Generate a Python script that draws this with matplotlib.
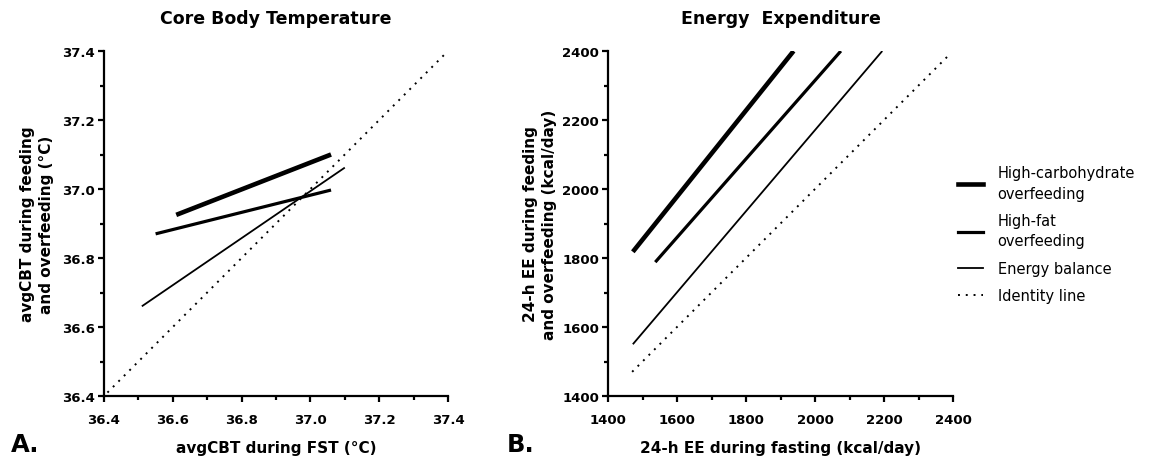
import matplotlib
matplotlib.use("Agg")
import matplotlib.pyplot as plt
from matplotlib.ticker import MultipleLocator
from matplotlib.lines import Line2D

plt.rcParams['font.family'] = ['DejaVu Sans']

# Panel A: core body temperature (x: FST, y: feeding/overfeeding)
cbt_hc_x = [36.61, 37.06]
cbt_hc_y = [36.925, 37.10]
cbt_hf_x = [36.55, 37.06]
cbt_hf_y = [36.87, 36.997]
cbt_eb_x = [36.51, 37.10]
cbt_eb_y = [36.66, 37.062]
cbt_id = [36.41, 37.39]
cbt_ticks = [36.4, 36.6, 36.8, 37.0, 37.2, 37.4]
cbt_ticklabels = ['36.4', '36.6', '36.8', '37.0', '37.2', '37.4']

# Panel B: energy expenditure
ee_hc_x = [1472, 1938]
ee_hc_y = [1818, 2400]
ee_hf_x = [1537, 2075]
ee_hf_y = [1788, 2400]
ee_eb_x = [1472, 2195]
ee_eb_y = [1550, 2400]
ee_id = [1470, 2392]
ee_ticks = [1400, 1600, 1800, 2000, 2200, 2400]

labels = ["High-carbohydrate\noverfeeding", "High-fat\noverfeeding",
          "Energy balance", "Identity line"]

fig = plt.figure(figsize=(11.6, 4.6), dpi=100)
W, H = 1160, 460
axA = fig.add_axes([104 / W, 1 - 397 / H, (448 - 104) / W, (397 - 52) / H])
axB = fig.add_axes([608 / W, 1 - 397 / H, (953 - 608) / W, (397 - 52) / H])

lw_hc, lw_hf, lw_eb, lw_id = 3.3, 2.3, 1.3, 1.4
dot = (0, (1, 3))

def style(ax):
    for s in ['top', 'right']:
        ax.spines[s].set_visible(False)
    for s in ['left', 'bottom']:
        ax.spines[s].set_linewidth(1.6)
    ax.tick_params(which='major', length=4.5, width=1.6, labelsize=9.5)
    ax.tick_params(which='minor', length=3, width=1.6)
    ax.tick_params(axis='x', which='major', pad=8)
    ax.tick_params(axis='y', which='major', pad=2)
    for lab in ax.get_xticklabels() + ax.get_yticklabels():
        lab.set_fontweight('bold')

axA.plot(cbt_hc_x, cbt_hc_y, color='black', lw=lw_hc, solid_capstyle='butt')
axA.plot(cbt_hf_x, cbt_hf_y, color='black', lw=lw_hf, solid_capstyle='butt')
axA.plot(cbt_eb_x, cbt_eb_y, color='black', lw=lw_eb, solid_capstyle='butt')
axA.plot(cbt_id, cbt_id, color='black', lw=lw_id, linestyle=dot)
axA.set_xlim(36.4, 37.4)
axA.set_ylim(36.4, 37.4)
axA.set_xticks(cbt_ticks)
axA.set_xticklabels(cbt_ticklabels)
axA.set_yticks(cbt_ticks)
axA.set_yticklabels(cbt_ticklabels)
axA.xaxis.set_minor_locator(MultipleLocator(0.1))
axA.yaxis.set_minor_locator(MultipleLocator(0.1))
style(axA)
axA.set_title("Core Body Temperature", fontsize=12.5, fontweight='bold', pad=20)
axA.set_xlabel("avgCBT during FST (°C)", fontsize=11, fontweight='bold', labelpad=10)
ylA = axA.set_ylabel("avgCBT during feeding\nand overfeeding (°C)", fontsize=11,
                     fontweight='bold', labelpad=6)
ylA.set_linespacing(1.3)

axB.plot(ee_hc_x, ee_hc_y, color='black', lw=lw_hc, solid_capstyle='butt')
axB.plot(ee_hf_x, ee_hf_y, color='black', lw=lw_hf, solid_capstyle='butt')
axB.plot(ee_eb_x, ee_eb_y, color='black', lw=lw_eb, solid_capstyle='butt')
axB.plot(ee_id, ee_id, color='black', lw=lw_id, linestyle=dot)
axB.set_xlim(1400, 2400)
axB.set_ylim(1400, 2400)
axB.set_xticks(ee_ticks)
axB.set_yticks(ee_ticks)
axB.xaxis.set_minor_locator(MultipleLocator(100))
axB.yaxis.set_minor_locator(MultipleLocator(100))
style(axB)
axB.set_title("Energy  Expenditure", fontsize=12.5, fontweight='bold', pad=20)
axB.set_xlabel("24-h EE during fasting (kcal/day)", fontsize=11, fontweight='bold', labelpad=10)
ylB = axB.set_ylabel("24-h EE during feeding\nand overfeeding (kcal/day)", fontsize=11,
                     fontweight='bold', labelpad=4)
ylB.set_linespacing(1.3)

handles = [Line2D([], [], color='black', lw=lw_hc),
           Line2D([], [], color='black', lw=lw_hf),
           Line2D([], [], color='black', lw=lw_eb),
           Line2D([], [], color='black', lw=lw_id, linestyle=dot)]
leg = fig.legend(handles, labels, loc='upper left', bbox_to_anchor=(945 / W, 1 - 153 / H),
                 frameon=False, fontsize=10.5, handlelength=1.7, handletextpad=1.0,
                 labelspacing=0.85)
for t in leg.get_texts():
    t.set_linespacing(1.45)

fig.text(11 / W, 1 - 452 / H, "A.", fontsize=17.5, fontweight='bold')
fig.text(507 / W, 1 - 452 / H, "B.", fontsize=17.5, fontweight='bold')

fig.savefig("out.png", dpi=100)
